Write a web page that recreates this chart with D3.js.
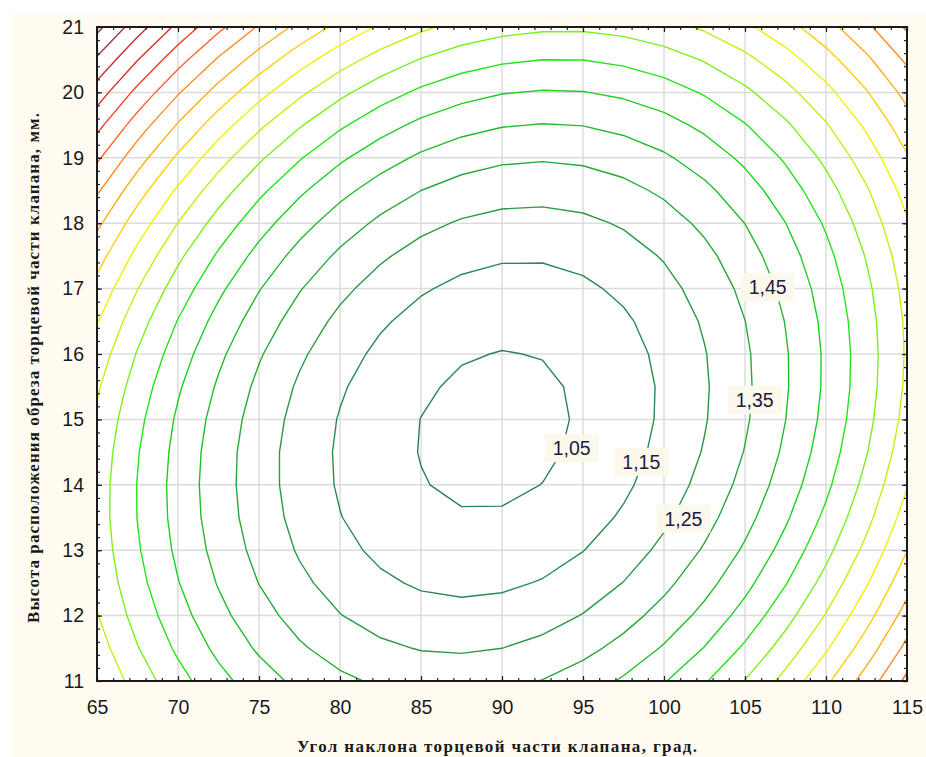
<!DOCTYPE html>
<html>
<head>
<meta charset="utf-8">
<script src="https://cdn.jsdelivr.net/npm/d3@7"></script>
<style>
  html, body { margin: 0; padding: 0; background: #fff; }
  svg { display: block; }
</style>
</head>
<body>
<script>

// surface grid: one row per height, one column per angle
var angleGrid = [65, 67.5, 70, 72.5, 75, 77.5, 80, 82.5, 85, 87.5, 90, 92.5, 95, 97.5, 100, 102.5, 105, 107.5, 110, 112.5, 115];
var heightGrid = [11, 11.5, 12, 12.5, 13, 13.5, 14, 14.5, 15, 15.5, 16, 16.5, 17, 17.5, 18, 18.5, 19, 19.5, 20, 20.5, 21];

var responseRows = [
  [1.944,1.807,1.686,1.582,1.495,1.425,1.371,1.334,1.313,1.310,1.323,1.353,1.399,1.463,1.543,1.640,1.753,1.883,2.030,2.194,2.374],
  [1.895,1.755,1.632,1.526,1.436,1.363,1.307,1.268,1.245,1.239,1.250,1.277,1.321,1.382,1.460,1.554,1.666,1.793,1.938,2.099,2.277],
  [1.855,1.713,1.588,1.479,1.387,1.312,1.253,1.212,1.187,1.178,1.187,1.212,1.254,1.312,1.387,1.479,1.588,1.714,1.856,2.015,2.190],
  [1.826,1.681,1.554,1.443,1.348,1.271,1.210,1.166,1.138,1.128,1.134,1.156,1.196,1.252,1.325,1.415,1.521,1.644,1.784,1.941,2.114],
  [1.807,1.660,1.530,1.416,1.320,1.240,1.176,1.130,1.100,1.087,1.091,1.111,1.148,1.202,1.273,1.360,1.464,1.585,1.722,1.876,2.047],
  [1.797,1.648,1.516,1.400,1.301,1.219,1.153,1.104,1.072,1.057,1.058,1.076,1.111,1.162,1.231,1.315,1.417,1.536,1.671,1.822,1.991],
  [1.799,1.647,1.512,1.394,1.293,1.208,1.140,1.089,1.054,1.036,1.035,1.051,1.084,1.133,1.198,1.281,1.380,1.496,1.629,1.779,1.945],
  [1.810,1.656,1.519,1.398,1.294,1.207,1.137,1.083,1.047,1.026,1.023,1.036,1.066,1.113,1.177,1.257,1.354,1.467,1.598,1.745,1.909],
  [1.831,1.675,1.535,1.412,1.306,1.217,1.144,1.088,1.049,1.026,1.021,1.032,1.059,1.104,1.165,1.243,1.337,1.449,1.577,1.721,1.883],
  [1.863,1.704,1.562,1.437,1.328,1.236,1.161,1.103,1.062,1.037,1.029,1.037,1.062,1.104,1.163,1.239,1.331,1.440,1.566,1.708,1.867],
  [1.904,1.743,1.599,1.471,1.360,1.266,1.189,1.128,1.084,1.057,1.047,1.053,1.076,1.115,1.172,1.245,1.335,1.441,1.565,1.705,1.861],
  [1.956,1.792,1.646,1.516,1.403,1.306,1.226,1.163,1.117,1.088,1.075,1.079,1.099,1.136,1.190,1.261,1.349,1.453,1.574,1.712,1.866],
  [2.018,1.852,1.703,1.571,1.455,1.356,1.274,1.209,1.160,1.128,1.113,1.114,1.133,1.168,1.219,1.288,1.373,1.475,1.593,1.729,1.881],
  [2.090,1.922,1.770,1.636,1.518,1.416,1.332,1.264,1.213,1.179,1.161,1.160,1.176,1.209,1.258,1.324,1.407,1.507,1.623,1.756,1.905],
  [2.172,2.001,1.848,1.711,1.590,1.487,1.400,1.330,1.276,1.240,1.220,1.217,1.230,1.260,1.307,1.371,1.451,1.549,1.662,1.793,1.940],
  [2.264,2.091,1.935,1.796,1.673,1.567,1.478,1.406,1.350,1.311,1.289,1.283,1.294,1.322,1.367,1.428,1.506,1.601,1.712,1.840,1.985],
  [2.367,2.192,2.033,1.891,1.766,1.658,1.566,1.492,1.433,1.392,1.367,1.359,1.368,1.394,1.436,1.495,1.571,1.663,1.772,1.898,2.041],
  [2.479,2.302,2.141,1.997,1.869,1.759,1.665,1.588,1.527,1.483,1.456,1.446,1.452,1.476,1.515,1.572,1.645,1.735,1.842,1.966,2.106],
  [2.602,2.422,2.259,2.112,1.983,1.870,1.773,1.694,1.631,1.585,1.555,1.543,1.547,1.568,1.605,1.659,1.730,1.818,1.922,2.043,2.181],
  [2.735,2.553,2.387,2.238,2.106,1.991,1.892,1.810,1.745,1.696,1.665,1.650,1.651,1.670,1.705,1.757,1.825,1.911,2.013,2.131,2.267],
  [2.878,2.693,2.525,2.374,2.240,2.122,2.021,1.937,1.869,1.818,1.784,1.767,1.766,1.782,1.815,1.864,1.931,2.013,2.113,2.230,2.363]
];

// contour levels and their line colours
var levels = [1.05, 1.15, 1.25, 1.35, 1.45, 1.55, 1.65, 1.75, 1.85, 1.95, 2.05, 2.15, 2.25, 2.35, 2.45, 2.55, 2.65, 2.75, 2.85];
var levelColors = ["#2d7f62", "#2b8a50", "#2a9845", "#27a83a", "#22bb2e", "#1ccf22", "#22e418", "#7cf018", "#c2f010", "#f2f000",
                   "#ffd200", "#ffae18", "#ff8a26", "#ff6424", "#f23c22", "#de2a2a", "#c42c3a", "#ae2e44", "#9a3448"];

// labelled contours
var labelTexts = ["1,05", "1,15", "1,25", "1,35", "1,45"];
var labelAngles = [94.3, 98.6, 101.2, 105.6, 106.4];
var labelHeights = [14.56, 14.35, 13.48, 15.30, 17.02];

var angleTicks = [65, 70, 75, 80, 85, 90, 95, 100, 105, 110, 115];
var heightTicks = [11, 12, 13, 14, 15, 16, 17, 18, 19, 20, 21];

var xTitle = "Угол наклона торцевой части клапана, град.";
var yTitle = "Высота расположения обреза торцевой части клапана, мм.";

var width = 926, height = 757;
var plot = { left: 97, top: 27, right: 907, bottom: 681 };
var tickFont = "Liberation Sans, Arial, sans-serif";
var titleFont = "Liberation Serif, DejaVu Serif, serif";

var svg = d3.select("body").append("svg")
  .attr("width", width)
  .attr("height", height);

svg.append("rect").attr("width", width).attr("height", height).attr("fill", "#ffffff");
svg.append("rect")
  .attr("x", 12).attr("y", 14)
  .attr("width", width - 12).attr("height", height - 14)
  .attr("fill", "#fffbf0");

var x = d3.scaleLinear().domain([angleTicks[0], angleTicks[angleTicks.length - 1]]).range([plot.left, plot.right]);
var y = d3.scaleLinear().domain([heightTicks[0], heightTicks[heightTicks.length - 1]]).range([plot.bottom, plot.top]);

svg.append("rect")
  .attr("x", plot.left).attr("y", plot.top)
  .attr("width", plot.right - plot.left).attr("height", plot.bottom - plot.top)
  .attr("fill", "#ffffff");

svg.append("clipPath").attr("id", "plotclip")
  .append("rect")
  .attr("x", plot.left).attr("y", plot.top)
  .attr("width", plot.right - plot.left).attr("height", plot.bottom - plot.top);

// grid lines
var grid = svg.append("g").attr("stroke", "#dcdcdc").attr("stroke-width", 1.5);
grid.selectAll(".gx")
  .data(angleTicks.slice(1, -1))
  .enter().append("line")
  .attr("x1", function(d) { return x(d); }).attr("x2", function(d) { return x(d); })
  .attr("y1", plot.top).attr("y2", plot.bottom);
grid.selectAll(".gy")
  .data(heightTicks.slice(1, -1))
  .enter().append("line")
  .attr("y1", function(d) { return y(d); }).attr("y2", function(d) { return y(d); })
  .attr("x1", plot.left).attr("x2", plot.right);

// contours
var nx = angleGrid.length, ny = heightGrid.length;
var values = [].concat.apply([], responseRows);

// d3.contours puts sample i at i + 0.5
var gx = d3.scaleLinear().domain([0.5, nx - 0.5]).range([angleGrid[0], angleGrid[nx - 1]]);
var gy = d3.scaleLinear().domain([0.5, ny - 0.5]).range([heightGrid[0], heightGrid[ny - 1]]);

var proj = d3.geoTransform({
  point: function(px, py) { this.stream.point(x(gx(px)), y(gy(py))); }
});
var path = d3.geoPath(proj);

var contours = d3.contours().size([nx, ny]).thresholds(levels)(values);

svg.append("g")
  .attr("clip-path", "url(#plotclip)")
  .selectAll("path")
  .data(contours)
  .enter().append("path")
  .attr("d", path)
  .attr("fill", "none")
  .attr("stroke", function(d) { return levelColors[levels.indexOf(d.value)]; })
  .attr("stroke-width", 1.4)
  .attr("stroke-linejoin", "round");

// contour labels
var labels = svg.append("g").selectAll("g")
  .data(labelTexts)
  .enter().append("g")
  .attr("transform", function(d, i) { return "translate(" + x(labelAngles[i]) + "," + y(labelHeights[i]) + ")"; });

labels.append("rect")
  .attr("x", -27).attr("y", -14)
  .attr("width", 54).attr("height", 28)
  .attr("fill", "#fdf8ec");

labels.append("text")
  .attr("text-anchor", "middle")
  .attr("dy", "0.36em")
  .attr("font-family", tickFont)
  .attr("font-size", 19.5)
  .attr("fill", "#1c1c3c")
  .text(function(d) { return d; });

// axes
function styleAxis(g) {
  g.select(".domain").remove();
  g.selectAll(".tick line").attr("stroke", "#222").attr("stroke-width", 1.2);
  g.selectAll(".tick text")
    .attr("font-family", tickFont)
    .attr("font-size", 19.5)
    .attr("fill", "#1a1a1a");
}

var minorX = x.ticks(50), minorY = y.ticks(40);

svg.append("g").attr("transform", "translate(0," + plot.bottom + ")")
  .call(d3.axisBottom(x).tickValues(minorX).tickSize(-3).tickFormat(""))
  .call(styleAxis);
svg.append("g").attr("transform", "translate(0," + plot.bottom + ")")
  .call(d3.axisBottom(x).tickValues(angleTicks).tickSize(-5).tickPadding(19).tickFormat(d3.format("d")))
  .call(styleAxis);

svg.append("g").attr("transform", "translate(0," + plot.top + ")")
  .call(d3.axisTop(x).tickValues(minorX).tickSize(-3).tickFormat(""))
  .call(styleAxis);
svg.append("g").attr("transform", "translate(0," + plot.top + ")")
  .call(d3.axisTop(x).tickValues(angleTicks).tickSize(-5).tickFormat(""))
  .call(styleAxis);

svg.append("g").attr("transform", "translate(" + plot.left + ",0)")
  .call(d3.axisLeft(y).tickValues(minorY).tickSize(-3).tickFormat(""))
  .call(styleAxis);
svg.append("g").attr("transform", "translate(" + plot.left + ",0)")
  .call(d3.axisLeft(y).tickValues(heightTicks).tickSize(-5).tickPadding(13).tickFormat(d3.format("d")))
  .call(styleAxis);

svg.append("g").attr("transform", "translate(" + plot.right + ",0)")
  .call(d3.axisRight(y).tickValues(minorY).tickSize(-3).tickFormat(""))
  .call(styleAxis);
svg.append("g").attr("transform", "translate(" + plot.right + ",0)")
  .call(d3.axisRight(y).tickValues(heightTicks).tickSize(-5).tickFormat(""))
  .call(styleAxis);

// frame
svg.append("rect")
  .attr("x", plot.left).attr("y", plot.top)
  .attr("width", plot.right - plot.left).attr("height", plot.bottom - plot.top)
  .attr("fill", "none")
  .attr("stroke", "#1a1a1a")
  .attr("stroke-width", 2);

// titles
svg.append("text")
  .attr("x", 497).attr("y", 752)
  .attr("text-anchor", "middle")
  .attr("font-family", titleFont)
  .attr("font-size", 17)
  .attr("font-weight", "bold")
  .attr("fill", "#1a1a1a")
  .attr("textLength", 400)
  .attr("lengthAdjust", "spacing")
  .text(xTitle);

svg.append("text")
  .attr("transform", "translate(39,368) rotate(-90)")
  .attr("text-anchor", "middle")
  .attr("font-family", titleFont)
  .attr("font-size", 17)
  .attr("font-weight", "bold")
  .attr("fill", "#1a1a1a")
  .attr("textLength", 510)
  .attr("lengthAdjust", "spacing")
  .text(yTitle);

</script>
</body>
</html>
